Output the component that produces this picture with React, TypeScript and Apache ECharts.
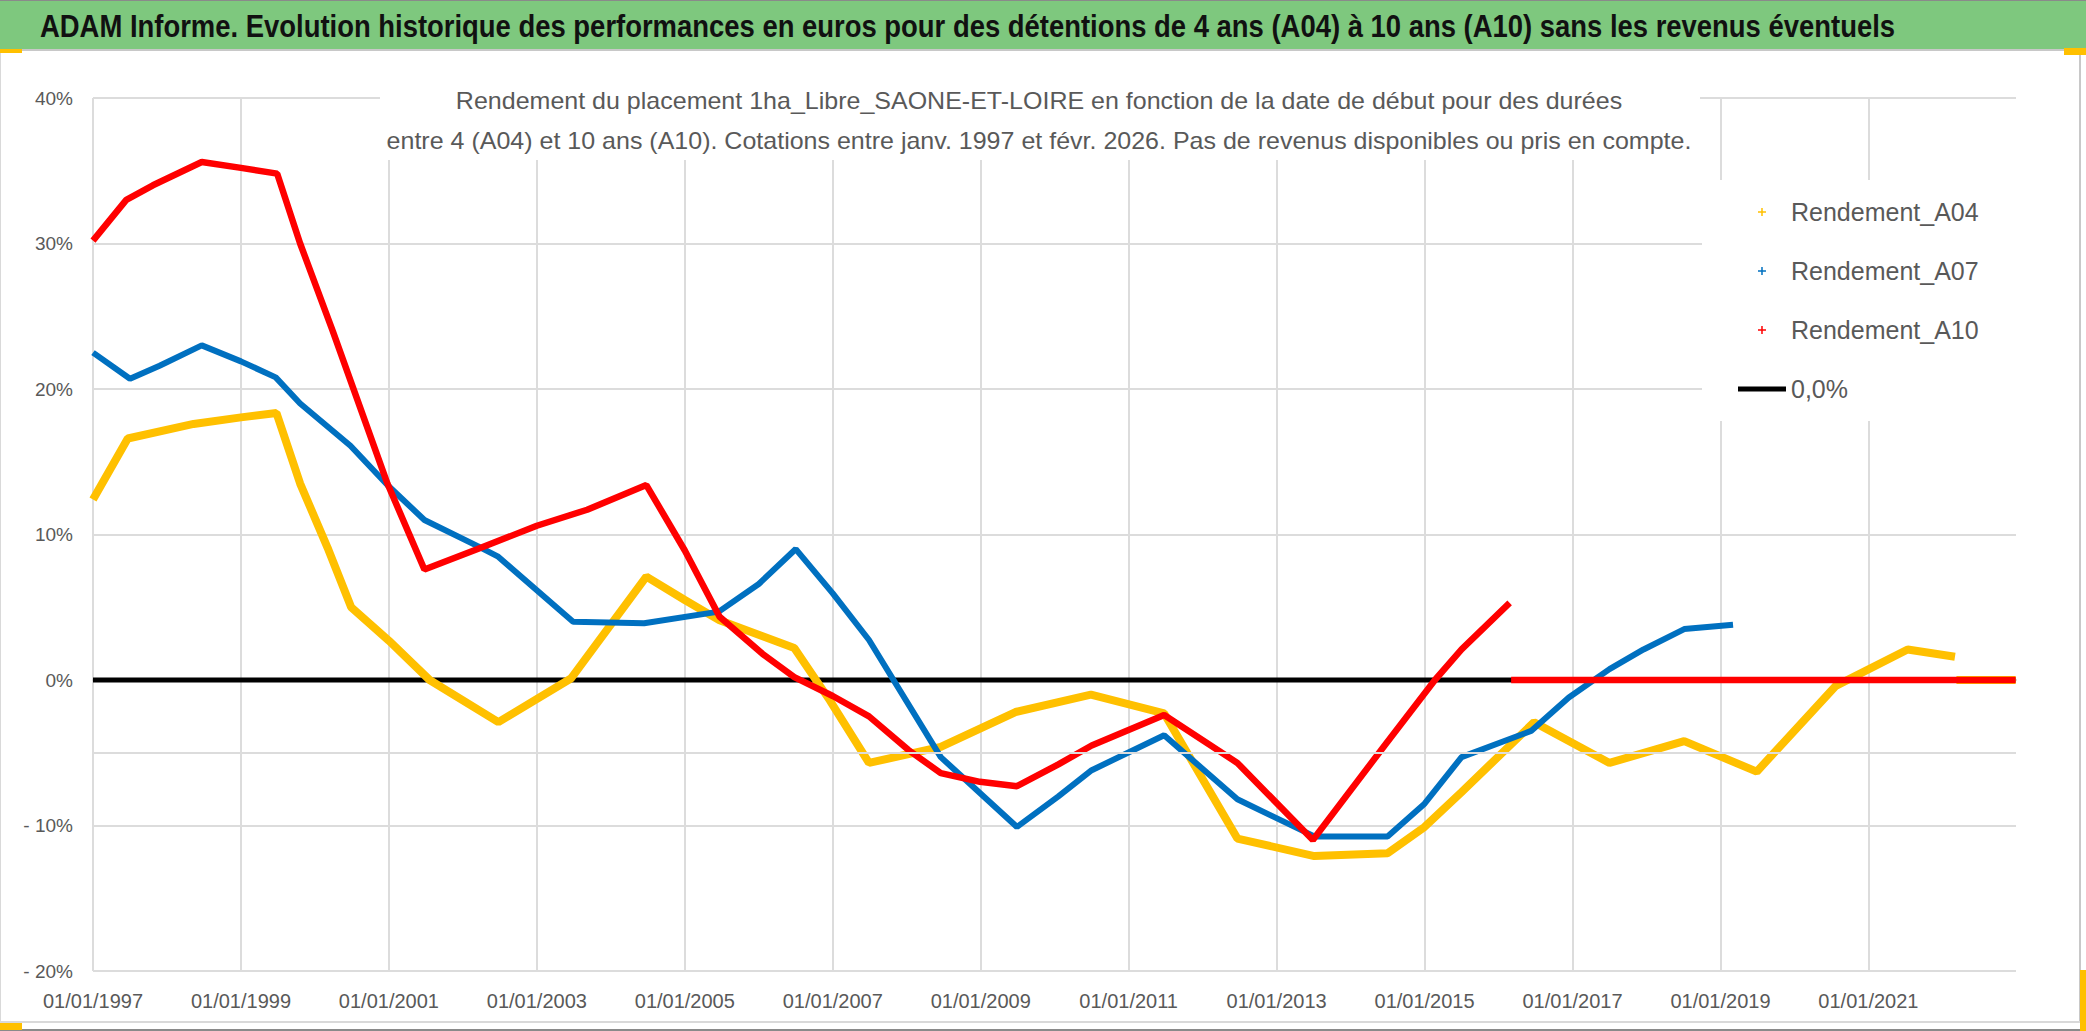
import React, { useEffect, useRef } from "react";
import * as echarts from "echarts";

const TITLE =
  "ADAM Informe. Evolution historique des performances en euros pour des détentions de 4 ans (A04) à 10 ans (A10) sans les revenus éventuels";
const SUBTITLE_1 =
  "Rendement du placement 1ha_Libre_SAONE-ET-LOIRE en fonction de la date de début pour des durées";
const SUBTITLE_2 =
  "entre 4 (A04) et 10 ans (A10). Cotations entre janv. 1997 et févr. 2026. Pas de revenus disponibles ou pris en compte.";

const SERIES_NAMES = ["Rendement_A04", "Rendement_A07", "Rendement_A10", "0,0%"];
const X_START = 1997;
const X_END = 2023;
const X_LABEL_PREFIX = "01/01/";
const Y_MIN = -20;
const Y_MAX = 40;
const Y_STEP = 10;
const EXTRA_GRID_LEVEL = -5;

// decimal years (start date of holding) and yield in %
const A04_DATES = [
  1997.0, 1997.47, 1998.36, 1999.0, 1999.48, 1999.8, 2000.17, 2000.49, 2001.0, 2001.55,
  2002.48, 2003.46, 2004.48, 2005.0, 2005.47, 2006.48, 2006.96, 2007.49, 2008.46, 2009.47,
  2010.49, 2011.48, 2012.47, 2013.51, 2014.5, 2015.0, 2015.5, 2016.48, 2017.5, 2018.51,
  2019.49, 2020.56, 2021.53, 2022.17,
];
const A04_VALUES = [
  12.4, 16.6, 17.6, 18.05, 18.35, 13.5, 9.1, 5.0, 2.7, 0.0,
  -2.9, 0.1, 7.1, 5.5, 4.1, 2.2, -1.4, -5.7, -4.6, -2.2,
  -1.0, -2.3, -10.9, -12.1, -11.9, -10.1, -7.7, -2.9, -5.7, -4.2,
  -6.3, -0.4, 2.1, 1.6,
];
const A04_TAIL_DATES = [2022.19, 2022.99];
const A04_TAIL_VALUES = [0, 0];

const A07_DATES = [
  1997.0, 1997.5, 1997.9, 1998.47, 1999.0, 1999.47, 1999.8, 2000.48, 2000.98, 2001.48,
  2002.2, 2002.47, 2003.49, 2004.45, 2005.46, 2006.0, 2006.5, 2007.0, 2007.49, 2008.46,
  2009.49, 2010.05, 2010.5, 2011.48, 2012.47, 2013.51, 2014.5, 2015.0, 2015.5, 2016.44,
  2016.95, 2017.5, 2017.96, 2018.51, 2019.17,
];
const A07_VALUES = [
  22.5, 20.7, 21.6, 23.0, 21.9, 20.8, 19.0, 16.1, 13.4, 11.0,
  9.2, 8.5, 4.0, 3.9, 4.7, 6.6, 9.0, 5.95, 2.75, -5.3,
  -10.1, -8.0, -6.2, -3.8, -8.2, -10.75, -10.75, -8.5, -5.3, -3.5,
  -1.2, 0.75, 2.1, 3.5, 3.8,
];

const A10_DATES = [
  1997.0, 1997.45, 1997.81, 1998.47, 1999.0, 1999.49, 1999.8, 2000.24, 2000.98, 2001.48,
  2002.2, 2003.0, 2003.68, 2004.48, 2005.0, 2005.47, 2006.05, 2006.48, 2007.0, 2007.49,
  2008.02, 2008.46, 2008.99, 2009.49, 2010.05, 2010.5, 2011.48, 2012.47, 2013.49, 2014.46,
  2015.14, 2015.5, 2016.15,
];
const A10_VALUES = [
  30.2, 33.0, 34.0, 35.6, 35.2, 34.8, 30.0, 24.0, 13.5, 7.6,
  9.0, 10.6, 11.7, 13.4, 8.9, 4.35, 1.8, 0.2, -1.1, -2.5,
  -4.8, -6.4, -7.0, -7.3, -5.8, -4.5, -2.4, -5.7, -11.0, -4.5,
  0.0, 2.1, 5.3,
];
const A10_TAIL_DATES = [2016.17, 2022.99];
const A10_TAIL_VALUES = [0, 0];

const ZERO_DATES = [1997.0, 2022.99];
const ZERO_VALUES = [0, 0];

const COLORS = ["#FFC000", "#0070C0", "#FF0000", "#000000"];

const FONT = '"Liberation Sans", Arial, sans-serif';

function pairs(dates: number[], values: number[]) {
  return dates.map((d, i) => [d - X_START, values[i]]);
}
function withTail(main: number[][], tail: number[][]) {
  return [...main, [tail[0][0] - 0.005, null], ...tail];
}
function fitScale(text: string, font: string, target: number) {
  const ctx = document.createElement("canvas").getContext("2d");
  if (!ctx) return 1;
  ctx.font = font;
  const w = ctx.measureText(text).width;
  return w > 0 ? target / w : 1;
}

const PLUS_ICON =
  "path://M0,0h0.01v0.01h-0.01zM12,12h0.01v0.01h-0.01zM5.25,2h1.5v3.25h3.25v1.5h-3.25v3.25h-1.5v-3.25h-3.25v-1.5h3.25z";
const LINE_ICON = "path://M0,0h48v5h-48z";

export default function App() {
  const ref = useRef<HTMLDivElement>(null);

  useEffect(() => {
    document.body.style.margin = "0";
    if (!ref.current) return;
    const chart = echarts.init(ref.current, undefined, { renderer: "svg" });

    const a04 = withTail(pairs(A04_DATES, A04_VALUES), pairs(A04_TAIL_DATES, A04_TAIL_VALUES));
    const a07 = pairs(A07_DATES, A07_VALUES);
    const a10 = withTail(pairs(A10_DATES, A10_VALUES), pairs(A10_TAIL_DATES, A10_TAIL_VALUES));
    const zero = pairs(ZERO_DATES, ZERO_VALUES);

    const titleSize = 31;
    const titleScale = fitScale(TITLE, `bold ${titleSize}px "Liberation Sans"`, 1856);
    const subSize = 23;
    const subScale = fitScale(SUBTITLE_2, `${subSize}px "Liberation Sans"`, 1306);

    const option: any = {
      animation: false,
      backgroundColor: "#ffffff",
      textStyle: { fontFamily: FONT },
      grid: { left: 93, right: 70, top: 98, bottom: 60, containLabel: false },
      xAxis: {
        type: "value",
        min: 0,
        max: X_END - X_START - 0.005,
        interval: 2,
        axisLine: { show: true, lineStyle: { color: "#cfcfcf", width: 2 } },
        axisTick: { show: false },
        splitLine: { show: true, showMaxLine: false, lineStyle: { color: "#dcdcdc", width: 2 } },
        axisLabel: {
          color: "#595959",
          fontSize: 20,
          fontFamily: FONT,
          margin: 20,
          showMaxLabel: false,
          formatter: (v: number) =>
            v > X_END - X_START - 1 ? "" : X_LABEL_PREFIX + Math.round(X_START + v),
        },
      },
      yAxis: {
        type: "value",
        min: Y_MIN,
        max: Y_MAX,
        interval: Y_STEP,
        axisLine: { show: false },
        axisTick: { show: false },
        splitLine: { show: true, lineStyle: { color: "#dcdcdc", width: 2 } },
        axisLabel: {
          color: "#595959",
          fontSize: 19,
          fontFamily: FONT,
          margin: 20,
          formatter: (v: number) => (v < 0 ? "- " + Math.abs(v) + "%" : v + "%"),
        },
      },
      legend: {
        orient: "vertical",
        left: 1702,
        top: 180,
        padding: [17, 50, 17, 36],
        backgroundColor: "#ffffff",
        itemWidth: 48,
        itemHeight: 12,
        itemGap: 29,
        itemStyle: { borderWidth: 0 },
        textStyle: { fontSize: 25, color: "#595959", fontFamily: FONT, lineHeight: 30 },
        data: [
          { name: SERIES_NAMES[0], icon: PLUS_ICON },
          { name: SERIES_NAMES[1], icon: PLUS_ICON },
          { name: SERIES_NAMES[2], icon: PLUS_ICON },
          { name: SERIES_NAMES[3], icon: LINE_ICON },
        ],
      },
      series: [
        {
          name: SERIES_NAMES[3],
          type: "line",
          data: zero,
          showSymbol: false,
          symbol: "none",
          color: COLORS[3],
          lineStyle: { color: COLORS[3], width: 5 },
          markLine: {
            silent: true,
            symbol: "none",
            label: { show: false },
            lineStyle: { color: "#dcdcdc", width: 2, type: "solid" },
            data: [{ yAxis: EXTRA_GRID_LEVEL }],
          },
        },
        {
          name: SERIES_NAMES[0],
          type: "line",
          data: a04,
          showSymbol: false,
          symbol: "none",
          connectNulls: false,
          color: COLORS[0],
          lineStyle: { color: COLORS[0], width: 8 },
        },
        {
          name: SERIES_NAMES[1],
          type: "line",
          data: a07,
          showSymbol: false,
          symbol: "none",
          color: COLORS[1],
          lineStyle: { color: COLORS[1], width: 6 },
        },
        {
          name: SERIES_NAMES[2],
          type: "line",
          data: a10,
          showSymbol: false,
          symbol: "none",
          connectNulls: false,
          color: COLORS[2],
          lineStyle: { color: COLORS[2], width: 6.5 },
        },
      ],
      graphic: [
        { type: "rect", z: 1, shape: { x: 0, y: 0, width: 2086, height: 49 }, style: { fill: "#7ec87e" } },
        { type: "line", z: 1, shape: { x1: 0, y1: 0.5, x2: 2086, y2: 0.5 }, style: { stroke: "#8a8a8a", lineWidth: 1 } },
        { type: "line", z: 1, shape: { x1: 0, y1: 50, x2: 2086, y2: 50 }, style: { stroke: "#c8c8c8", lineWidth: 2 } },
        {
          type: "text",
          z: 2,
          x: 40,
          y: 26,
          scaleX: titleScale,
          style: {
            text: TITLE,
            fill: "#111111",
            fontSize: titleSize,
            fontWeight: "bold",
            fontFamily: FONT,
            align: "left",
            verticalAlign: "middle",
          },
        },
        { type: "rect", z: 1, shape: { x: 380, y: 62, width: 1320, height: 98 }, style: { fill: "#ffffff" } },
        {
          type: "text",
          z: 2,
          x: 1039,
          y: 101,
          scaleX: subScale,
          style: {
            text: SUBTITLE_1,
            fill: "#595959",
            fontSize: subSize,
            fontFamily: FONT,
            align: "center",
            verticalAlign: "middle",
          },
        },
        {
          type: "text",
          z: 2,
          x: 1039,
          y: 141,
          scaleX: subScale,
          style: {
            text: SUBTITLE_2,
            fill: "#595959",
            fontSize: subSize,
            fontFamily: FONT,
            align: "center",
            verticalAlign: "middle",
          },
        },
        { type: "line", z: 1, shape: { x1: 0.5, y1: 50, x2: 0.5, y2: 1022 }, style: { stroke: "#d9d9d9", lineWidth: 1 } },
        { type: "line", z: 1, shape: { x1: 2080, y1: 55, x2: 2080, y2: 1022 }, style: { stroke: "#c8c8c8", lineWidth: 2 } },
        { type: "line", z: 1, shape: { x1: 0, y1: 1022, x2: 2086, y2: 1022 }, style: { stroke: "#d9d9d9", lineWidth: 2 } },
        { type: "line", z: 1, shape: { x1: 0, y1: 1030, x2: 2086, y2: 1030 }, style: { stroke: "#8a8a8a", lineWidth: 2 } },
        { type: "rect", z: 2, shape: { x: 0, y: 49, width: 22, height: 4 }, style: { fill: "#FFC000" } },
        { type: "rect", z: 2, shape: { x: 2064, y: 48, width: 22, height: 7 }, style: { fill: "#FFC000" } },
        { type: "rect", z: 2, shape: { x: 2080, y: 970, width: 6, height: 61 }, style: { fill: "#FFC000" } },
        { type: "rect", z: 2, shape: { x: 0, y: 1023, width: 22, height: 7 }, style: { fill: "#FFC000" } },
      ],
    };

    chart.setOption(option);
    return () => chart.dispose();
  }, []);

  return (
    <div
      ref={ref}
      style={{ position: "absolute", left: 0, top: 0, width: 2086, height: 1031 }}
    />
  );
}
